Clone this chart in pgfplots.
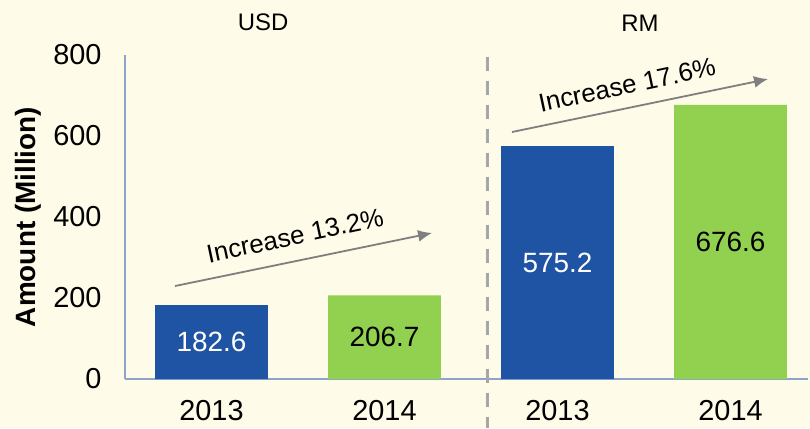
\documentclass[border=0pt]{standalone}
\usepackage{pgfplots}
\pgfplotsset{compat=1.18}
\usetikzlibrary{arrows.meta}
\usepackage{fontspec}
\setmainfont{Liberation Sans}
\definecolor{bg}{HTML}{FEFBE9}
\definecolor{barblue}{HTML}{1F53A3}
\definecolor{bargreen}{HTML}{92D050}
\definecolor{axcol}{HTML}{8EA4CC}
\definecolor{arrgray}{HTML}{7F7F7F}
\definecolor{dashgray}{HTML}{A6A6A6}
\begin{document}
\begin{tikzpicture}[x=1bp,y=1bp]
\fill[bg] (-125,-49) rectangle (685,379);
\begin{axis}[
  at={(0,0)}, anchor=south west,
  scale only axis, width=683bp, height=324bp,
  xmin=-0.5, xmax=3.448, ymin=0, ymax=800,
  axis lines=left, axis line style={axcol, line width=1.2pt, -},
  axis x line*=bottom, axis y line*=left,
  xtick={0,1,2,3}, xticklabels={2013,2014,2013,2014},
  ytick={0,200,400,600,800},
  major tick length=0pt,
  /pgf/number format/assume math mode=true,
  tick label style={font=\fontsize{29}{32}\selectfont},
  xticklabel style={yshift=-18bp},
  yticklabel style={xshift=-20bp},
  ylabel={\textbf{Amount (Million)}},
  ylabel style={font=\fontsize{28}{32}\selectfont, at={(axis description cs:0,0.5)}, anchor=center, yshift=97bp},
  clip=false,
  ybar, bar width=0.653, bar shift=0pt,
  nodes near coords,
  nodes near coords style={font=\fontsize{28}{32}\selectfont, anchor=center},
  visualization depends on={y/2 \as \half},
  every node near coord/.append style={shift={(axis direction cs:0,-\half)}},
  point meta=explicit symbolic,
]
\addplot[fill=barblue, draw=none, nodes near coords style={text=white}] coordinates {(0,182.6) [182.6] (2,575.2) [575.2]};
\addplot[fill=bargreen, draw=none, nodes near coords style={text=black}] coordinates {(1,206.7) [206.7] (3,676.6) [676.6]};
\draw[dashgray, line width=3bp, dash pattern=on 14bp off 10bp] (axis cs:1.598,795) -- (axis cs:1.598,-121);
\draw[arrgray, line width=1.8bp, -{Latex[length=14bp,width=12bp]}] (axis cs:-0.211,229.6) -- (axis cs:1.275,360.5);
\draw[arrgray, line width=1.8bp, -{Latex[length=14bp,width=12bp]}] (axis cs:1.737,609.9) -- (axis cs:3.217,740.7);
\node[rotate=12, font=\fontsize{26}{30}\selectfont] at (axis cs:0.483,354) {Increase 13.2\%};
\node[rotate=12, font=\fontsize{26}{30}\selectfont] at (axis cs:2.402,726) {Increase 17.6\%};
\node[font=\fontsize{24}{28}\selectfont] at (axis cs:0.298,881.5) {USD};
\node[font=\fontsize{24}{28}\selectfont] at (axis cs:2.477,879) {RM};
\end{axis}
\pgfresetboundingbox
\path (-125,-49) rectangle (685,379);
\end{tikzpicture}
\end{document}
